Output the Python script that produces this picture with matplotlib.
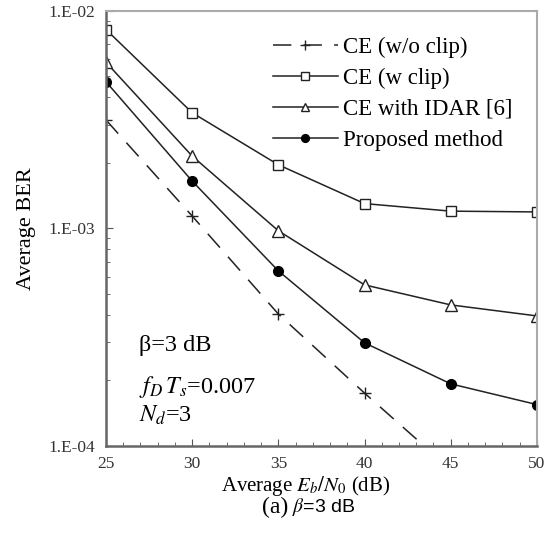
import matplotlib
matplotlib.use("Agg")
import matplotlib.pyplot as plt
from matplotlib.ticker import LogLocator, NullFormatter, MultipleLocator

plt.rcParams['font.family'] = ['Liberation Serif', 'DejaVu Serif']
plt.rcParams['mathtext.fontset'] = 'stix'

snr = [25, 30, 35, 40, 45, 50]
ber_noclip = [3.15e-3, 1.14e-3, 4.04e-4, 1.75e-4, 7.8e-5]
ber_clip = [8.2e-3, 3.4e-3, 1.96e-3, 1.30e-3, 1.20e-3, 1.19e-3]
ber_idar = [5.8e-3, 2.15e-3, 9.75e-4, 5.5e-4, 4.45e-4, 3.96e-4]
ber_prop = [4.72e-3, 1.65e-3, 6.38e-4, 2.98e-4, 1.93e-4, 1.55e-4]
labels = ['CE (w/o clip)', 'CE (w clip)', 'CE with IDAR [6]', 'Proposed method']

fig = plt.figure(figsize=(5.49, 5.38), dpi=100)
ax = fig.add_axes([0.193, 0.171, 0.785, 0.809])

lc = '#222222'
ax.plot(snr[:len(ber_noclip)], ber_noclip, color=lc, lw=1.1, dashes=(12, 8),
        marker='+', ms=9, mew=1.0, label=labels[0])
ax.plot(snr, ber_clip, color=lc, lw=1.1, marker='s', ms=6.5, mfc='white',
        mec=lc, mew=1.0, label=labels[1])
ax.plot(snr, ber_idar, color=lc, lw=1.1, marker='^', ms=8, mfc='white',
        mec=lc, mew=1.0, label=labels[2])
ax.plot(snr, ber_prop, color=lc, lw=1.1, marker='o', ms=7, mfc='black',
        mec='black', label=labels[3])

ax.set_yscale('log')
ax.set_xlim(25, 50)
ax.set_ylim(1e-4, 1e-2)
ax.set_xticks([25, 30, 35, 40, 45, 50])
ax.xaxis.set_minor_locator(MultipleLocator(1))
ax.set_yticks([1e-4, 1e-3, 1e-2])
ax.set_yticklabels(['1.E-04', '1.E-03', '1.E-02'])
ax.yaxis.set_minor_locator(LogLocator(base=10, subs=range(2, 10)))
ax.yaxis.set_minor_formatter(NullFormatter())
ax.tick_params(which='both', direction='in', color='#555555', labelsize=12.5,
               labelcolor='#333333')
ax.tick_params(which='major', length=5)
ax.tick_params(which='minor', length=3)
ax.tick_params(axis='y', pad=8)
ax.tick_params(axis='x', pad=7.5)

for side in ['left', 'bottom']:
    ax.spines[side].set_color('#666666')
    ax.spines[side].set_linewidth(1.8)
for side in ['top', 'right']:
    ax.spines[side].set_color('#aaaaaa')
    ax.spines[side].set_linewidth(1.5)

ax.set_ylabel('Average BER', fontsize=16)
ax.yaxis.set_label_coords(-0.162, 0.5)
ax.set_xlabel(r'Average $E_b/N_{\mathrm{0}}$ (dB)', fontsize=15)
ax.xaxis.set_label_coords(0.464, -0.064)

ax.legend(loc='upper left', frameon=False, fontsize=16.5, handlelength=2.84,
          labelspacing=0.43, handletextpad=0.22, borderpad=0, borderaxespad=0,
          markerscale=0.8, bbox_to_anchor=(0.3875, 0.94))

ax.text(0.077, 0.232, 'β=3 dB', transform=ax.transAxes, fontsize=17.5, va='center')
ax.text(0.077, 0.136, r'$f_D\,T_s$=0.007', transform=ax.transAxes, fontsize=17.5,
        va='center')
ax.text(0.077, 0.071, r'$N_d$=3', transform=ax.transAxes, fontsize=17.5, va='center')

fig.text(0.525, 1 - 507 / 538, '(a)', fontsize=17, ha='right', va='center')
fig.text(0.532, 1 - 507 / 538, r'$\beta$=3 dB', fontsize=14, ha='left', va='center',
         family='Liberation Sans')

fig.savefig('out.png', dpi=100)
